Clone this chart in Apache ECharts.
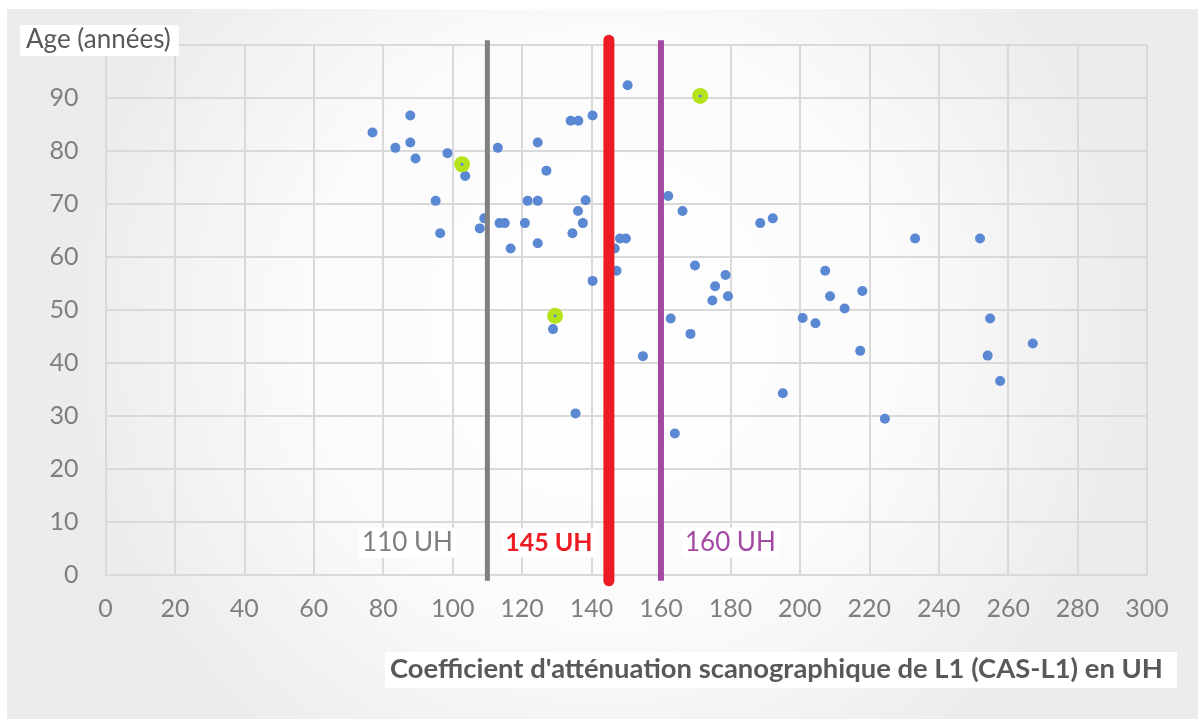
<!DOCTYPE html>
<html>
<head>
<meta charset="utf-8">
<script src="https://cdn.jsdelivr.net/npm/echarts@6/dist/echarts.min.js"></script>
<style>
  html, body { margin: 0; padding: 0; background: #fff; }
  #echart { width: 1198px; height: 719px; }
</style>
</head>
<body>
<div id="echart"></div>
<script>
// CAS-L1 (UH) et âge de chaque patient
var cas = [76.9, 87.8, 83.5, 87.8, 89.3, 98.5, 103.6, 95.1, 96.4,
    113, 124.5, 127, 121.6, 124.5, 109.1, 107.8, 113.5, 115, 120.8, 116.7, 124.5,
    150.4, 134, 136.2, 140.3, 138.3, 136.1, 137.5, 134.5, 148.2, 149.9, 146.7, 147.2, 140.3, 128.9, 154.8, 135.4,
    162.1, 166.2, 169.8, 178.6, 175.6, 179.3, 174.8, 162.8, 168.5, 164,
    188.6, 192.2, 233.2, 207.3, 208.7, 218, 212.9, 200.8, 204.5, 217.4, 195.1, 224.5, 251.9, 254.8, 267.1, 254.1, 257.7];
var age = [83.4, 86.6, 80.5, 81.5, 78.5, 79.5, 75.2, 70.5, 64.4,
    80.5, 81.5, 76.2, 70.5, 70.5, 67.2, 65.3, 66.3, 66.3, 66.3, 61.5, 62.5,
    92.3, 85.6, 85.6, 86.6, 70.6, 68.6, 66.3, 64.4, 63.4, 63.4, 61.5, 57.3, 55.4, 46.3, 41.2, 30.4,
    71.4, 68.6, 58.3, 56.5, 54.4, 52.5, 51.7, 48.3, 45.4, 26.6,
    66.3, 67.2, 63.4, 57.3, 52.5, 53.5, 50.2, 48.4, 47.4, 42.2, 34.2, 29.4, 63.4, 48.3, 43.6, 41.3, 36.5];
// patients surlignés en vert
var casVert = [102.7, 129.5, 171.3];
var ageVert = [77.4, 48.8, 90.3];
// seuils
var seuils = [110, 145, 160];
var seuilLabels = ['110 UH', '145 UH', '160 UH'];

var pts = cas.map(function (v, i) { return [v, age[i]]; });
var ptsVert = casVert.map(function (v, i) { return [v, ageVert[i]]; });

var couleurs = ['#808080', '#ed1c24', '#a349a4'];
var largeurs = [5, 11, 6];
var couleursTexte = ['#7f7f7f', '#ed1c24', '#a349a4'];
var decalage = [-23, -17.3, 20]; // où poser le texte par rapport au trait
var police = 'Lato, "Open Sans", sans-serif';

var option = {
    animation: false,
    textStyle: { fontFamily: police },
    graphic: [
        {
            type: 'rect', z: -10, silent: true,
            shape: { x: 7, y: 9, width: 1191, height: 710 },
            style: {
                fill: new echarts.graphic.RadialGradient(0.5, 0.45, 0.75, [
                    { offset: 0, color: '#ffffff' },
                    { offset: 0.55, color: '#fbfbfb' },
                    { offset: 1, color: '#ececec' }
                ])
            }
        },
        {
            type: 'text', z: 100, left: 20, top: 25,
            style: {
                text: 'Age (années)', fill: '#595959',
                font: '26px ' + police,
                backgroundColor: '#fff', padding: [2, 8, 3, 6]
            }
        },
        {
            type: 'text', z: 100, left: 385, top: 652,
            style: {
                text: "Coefficient d'atténuation scanographique de L1 (CAS-L1) en UH",
                fill: '#595959',
                font: 'bold 27.4px ' + police,
                backgroundColor: '#fff', padding: [4, 14, 5, 5]
            }
        }
    ],
    grid: { left: 105.5, right: 51, top: 44.5, bottom: 144.5 },
    xAxis: {
        type: 'value', min: 0, max: 300, interval: 20,
        axisLine: { lineStyle: { color: '#d9d9d9', width: 2 } },
        axisTick: { show: false },
        splitLine: { lineStyle: { color: '#d9d9d9', width: 2 } },
        axisLabel: { color: '#7f7f7f', fontSize: 25, margin: 22 }
    },
    yAxis: {
        type: 'value', min: 0, max: 100, interval: 10,
        axisLine: { show: false },
        axisTick: { show: false },
        splitLine: { lineStyle: { color: '#d9d9d9', width: 2 } },
        axisLabel: { color: '#7f7f7f', fontSize: 25, margin: 27, showMaxLabel: false }
    },
    series: [
        {
            name: 'patients', type: 'scatter', z: 2,
            symbolSize: 10,
            itemStyle: { color: '#5b88d2', opacity: 1 },
            data: pts
        },
        {
            name: 'surlignés', type: 'scatter', z: 3,
            symbolSize: 16,
            itemStyle: { color: '#b4e31b', opacity: 1 },
            data: ptsVert
        },
        {
            name: 'centre', type: 'scatter', z: 3,
            symbolSize: 3,
            itemStyle: { color: '#5b88d2', opacity: 1 },
            data: ptsVert
        },
        {
            name: 'seuils', type: 'custom', z: 5, clip: false, silent: true,
            data: seuils.map(function (s, i) { return [s, i]; }),
            encode: { x: 0 },
            renderItem: function (params, api) {
                var s = api.value(0), i = api.value(1);
                var bas = api.coord([s, -1.2]);
                var haut = api.coord([s, 100.8]);
                var txt = api.coord([s + decalage[i], 6]);
                return {
                    type: 'group',
                    children: [
                        {
                            type: 'line',
                            shape: { x1: bas[0], y1: bas[1], x2: haut[0], y2: haut[1] },
                            style: { stroke: couleurs[i], lineWidth: largeurs[i], lineCap: i === 1 ? 'round' : 'butt' }
                        },
                        {
                            type: 'text',
                            x: txt[0], y: txt[1],
                            style: {
                                text: seuilLabels[i],
                                fill: couleursTexte[i],
                                font: (i === 1 ? 'bold 25px ' : '26px ') + police,
                                align: 'center', verticalAlign: 'middle',
                                backgroundColor: '#fff', padding: [2, 3]
                            }
                        }
                    ]
                };
            }
        }
    ]
};
echarts.init(document.getElementById('echart')).setOption(option);
</script>
</body>
</html>
